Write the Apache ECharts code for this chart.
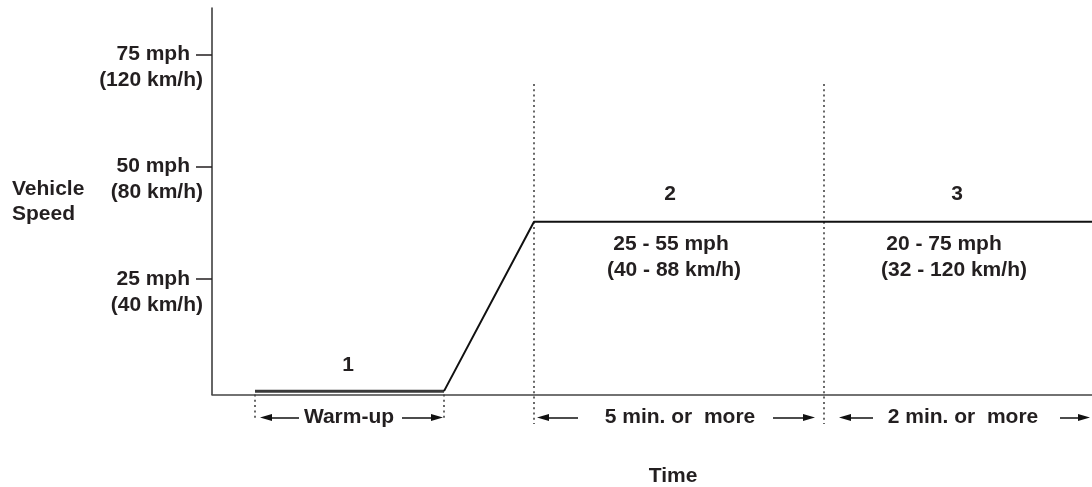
<!DOCTYPE html>
<html><head><meta charset="utf-8">
<style>html,body{margin:0;padding:0;background:#fff}#c{width:1092px;height:487px}</style>
<script src="https://cdn.jsdelivr.net/npm/echarts@6/dist/echarts.min.js"></script>
</head><body><div id="c"></div><script>
// ---- data (time in arbitrary units, speed in mph) ----
const Y_MIN = -0.75, Y_MAX = 85.3, X_MAX = 88;
const yTickValues = [25, 50, 75];
const yTickMph = ['25 mph', '50 mph', '75 mph'];
const yTickKmh = ['(40 km/h)', '(80 km/h)', '(120 km/h)'];

const warmTime = [4.3, 23.2];
const warmSpeed = [0, 0];
const driveTime = [23.2, 32.2, 88];
const driveSpeed = [0, 37.7, 37.7];

const markerTime = [4.3, 23.2, 32.2, 61.2];
const markerTop = [Y_MIN, Y_MIN, 68.4, 68.4];
const markerBottom = [-6.4, -6.4, -7.3, -7.3];

const ARROW_SPEED = -5.85;
const arrowTail = [8.7, 19.0, 36.6, 56.1, 66.1, 84.8];
const arrowTip = [4.8, 23.1, 32.5, 60.3, 62.7, 87.8];

const phaseNames = ['1', '2', '3'];
const phaseNameTime = [13.6, 45.8, 74.5];
const phaseNameSpeed = [5.8, 43.9, 43.9];

const rangeMph = ['25 - 55 mph', '20 - 75 mph'];
const rangeKmh = ['(40 - 88 km/h)', '(32 - 120 km/h)'];
const rangeTime = [46.2, 74.2];
const rangeSpeed = [29.8, 29.8];
const rangeShift = [6, 20];

const durationText = ['Warm-up', '5 min. or  more', '2 min. or  more'];
const durationTime = [13.7, 46.8, 75.1];

// ---- chart ----
const FONT = '"Liberation Sans", Arial, sans-serif';
const INK = '#231f20';
const FS = 21;
const tb = { fontFamily: FONT, fontWeight: 'bold', fontSize: FS, color: INK };
const HEAD = 0.6;

const zip = (a, b) => a.map((v, i) => [v, b[i]]);

const markerData = markerTime.map((t, i) => ({ coords: [[t, markerTop[i]], [t, markerBottom[i]]] }));
const arrowData = arrowTail.map((t, i) => {
  const dir = arrowTip[i] > t ? 1 : -1;
  return { coords: [[t, ARROW_SPEED], [arrowTip[i] - dir * HEAD, ARROW_SPEED]] };
});

const labelData = [];
phaseNames.forEach((n, i) => labelData.push({ value: [phaseNameTime[i], phaseNameSpeed[i]], label: { formatter: n } }));
rangeMph.forEach((m, i) => labelData.push({
  value: [rangeTime[i], rangeSpeed[i]],
  label: { formatter: `{a|${m}}\n{b|${rangeKmh[i]}}`,
    rich: { a: Object.assign({}, tb, { lineHeight: 26, padding: [0, rangeShift[i], 0, 0] }), b: Object.assign({}, tb, { lineHeight: 26 }) } }
}));
durationText.forEach((d, i) => labelData.push({ value: [durationTime[i], ARROW_SPEED], label: { formatter: d } }));

const chart = echarts.init(document.getElementById('c'), null, { renderer: 'canvas' });
chart.setOption({
  animation: false,
  backgroundColor: '#fff',
  grid: { left: 212, right: 0, top: 8, bottom: 92.5, containLabel: false, outerBoundsMode: 'none' },
  xAxis: {
    type: 'value', min: 0, max: X_MAX,
    name: 'Time', nameLocation: 'middle', nameGap: 82,
    nameTextStyle: Object.assign({}, tb, { verticalAlign: 'middle', padding: [0, 0, 0, 42] }),
    axisLine: { show: true, onZero: false, lineStyle: { color: '#444', width: 1.5 } },
    axisTick: { show: false }, axisLabel: { show: false }, splitLine: { show: false }
  },
  yAxis: {
    type: 'value', min: Y_MIN, max: Y_MAX,
    name: 'Vehicle\nSpeed', nameLocation: 'middle', nameRotate: 0, nameGap: 200,
    nameTextStyle: Object.assign({}, tb, { align: 'left', verticalAlign: 'middle', lineHeight: 25, padding: [0, 0, 15.5, 0] }),
    axisLine: { show: true, onZero: false, lineStyle: { color: '#333', width: 1.5 } },
    axisTick: { show: true, length: 16, customValues: yTickValues, lineStyle: { color: INK, width: 1.5 } },
    axisLabel: {
      customValues: yTickValues, margin: 9, padding: [26, 0, 0, 0],
      formatter: v => { const i = yTickValues.indexOf(v); return i < 0 ? '' : `{a|${yTickMph[i]}}\n{b|${yTickKmh[i]}}`; },
      rich: { a: Object.assign({}, tb, { lineHeight: 26, padding: [0, 13, 0, 0] }), b: Object.assign({}, tb, { lineHeight: 26 }) }
    },
    splitLine: { show: false }
  },
  series: [
    { type: 'line', data: zip(warmTime, warmSpeed), symbol: 'none', clip: false, z: 3,
      lineStyle: { color: '#3a3a3a', width: 3 } },
    { type: 'line', data: zip(driveTime, driveSpeed), symbol: 'none', clip: false, z: 4,
      lineStyle: { color: '#111', width: 2 } },
    { type: 'lines', coordinateSystem: 'cartesian2d', clip: false, silent: true, z: 2,
      symbol: 'none', lineStyle: { color: '#444', width: 1.6, type: [2, 3.3], opacity: 1 }, data: markerData },
    { type: 'lines', coordinateSystem: 'cartesian2d', clip: false, silent: true, z: 4,
      symbol: ['none', 'triangle'], symbolSize: [[7, 12], [7, 12]],
      lineStyle: { color: '#111', width: 1.5, opacity: 1 }, data: arrowData },
    { type: 'scatter', symbolSize: 0, clip: false, silent: true, z: 5,
      itemStyle: { opacity: 1, color: INK },
      label: Object.assign({ show: true, position: 'inside', align: 'center', verticalAlign: 'middle', opacity: 1, textBorderWidth: 0 }, tb),
      data: labelData }
  ]
});
</script></body></html>
